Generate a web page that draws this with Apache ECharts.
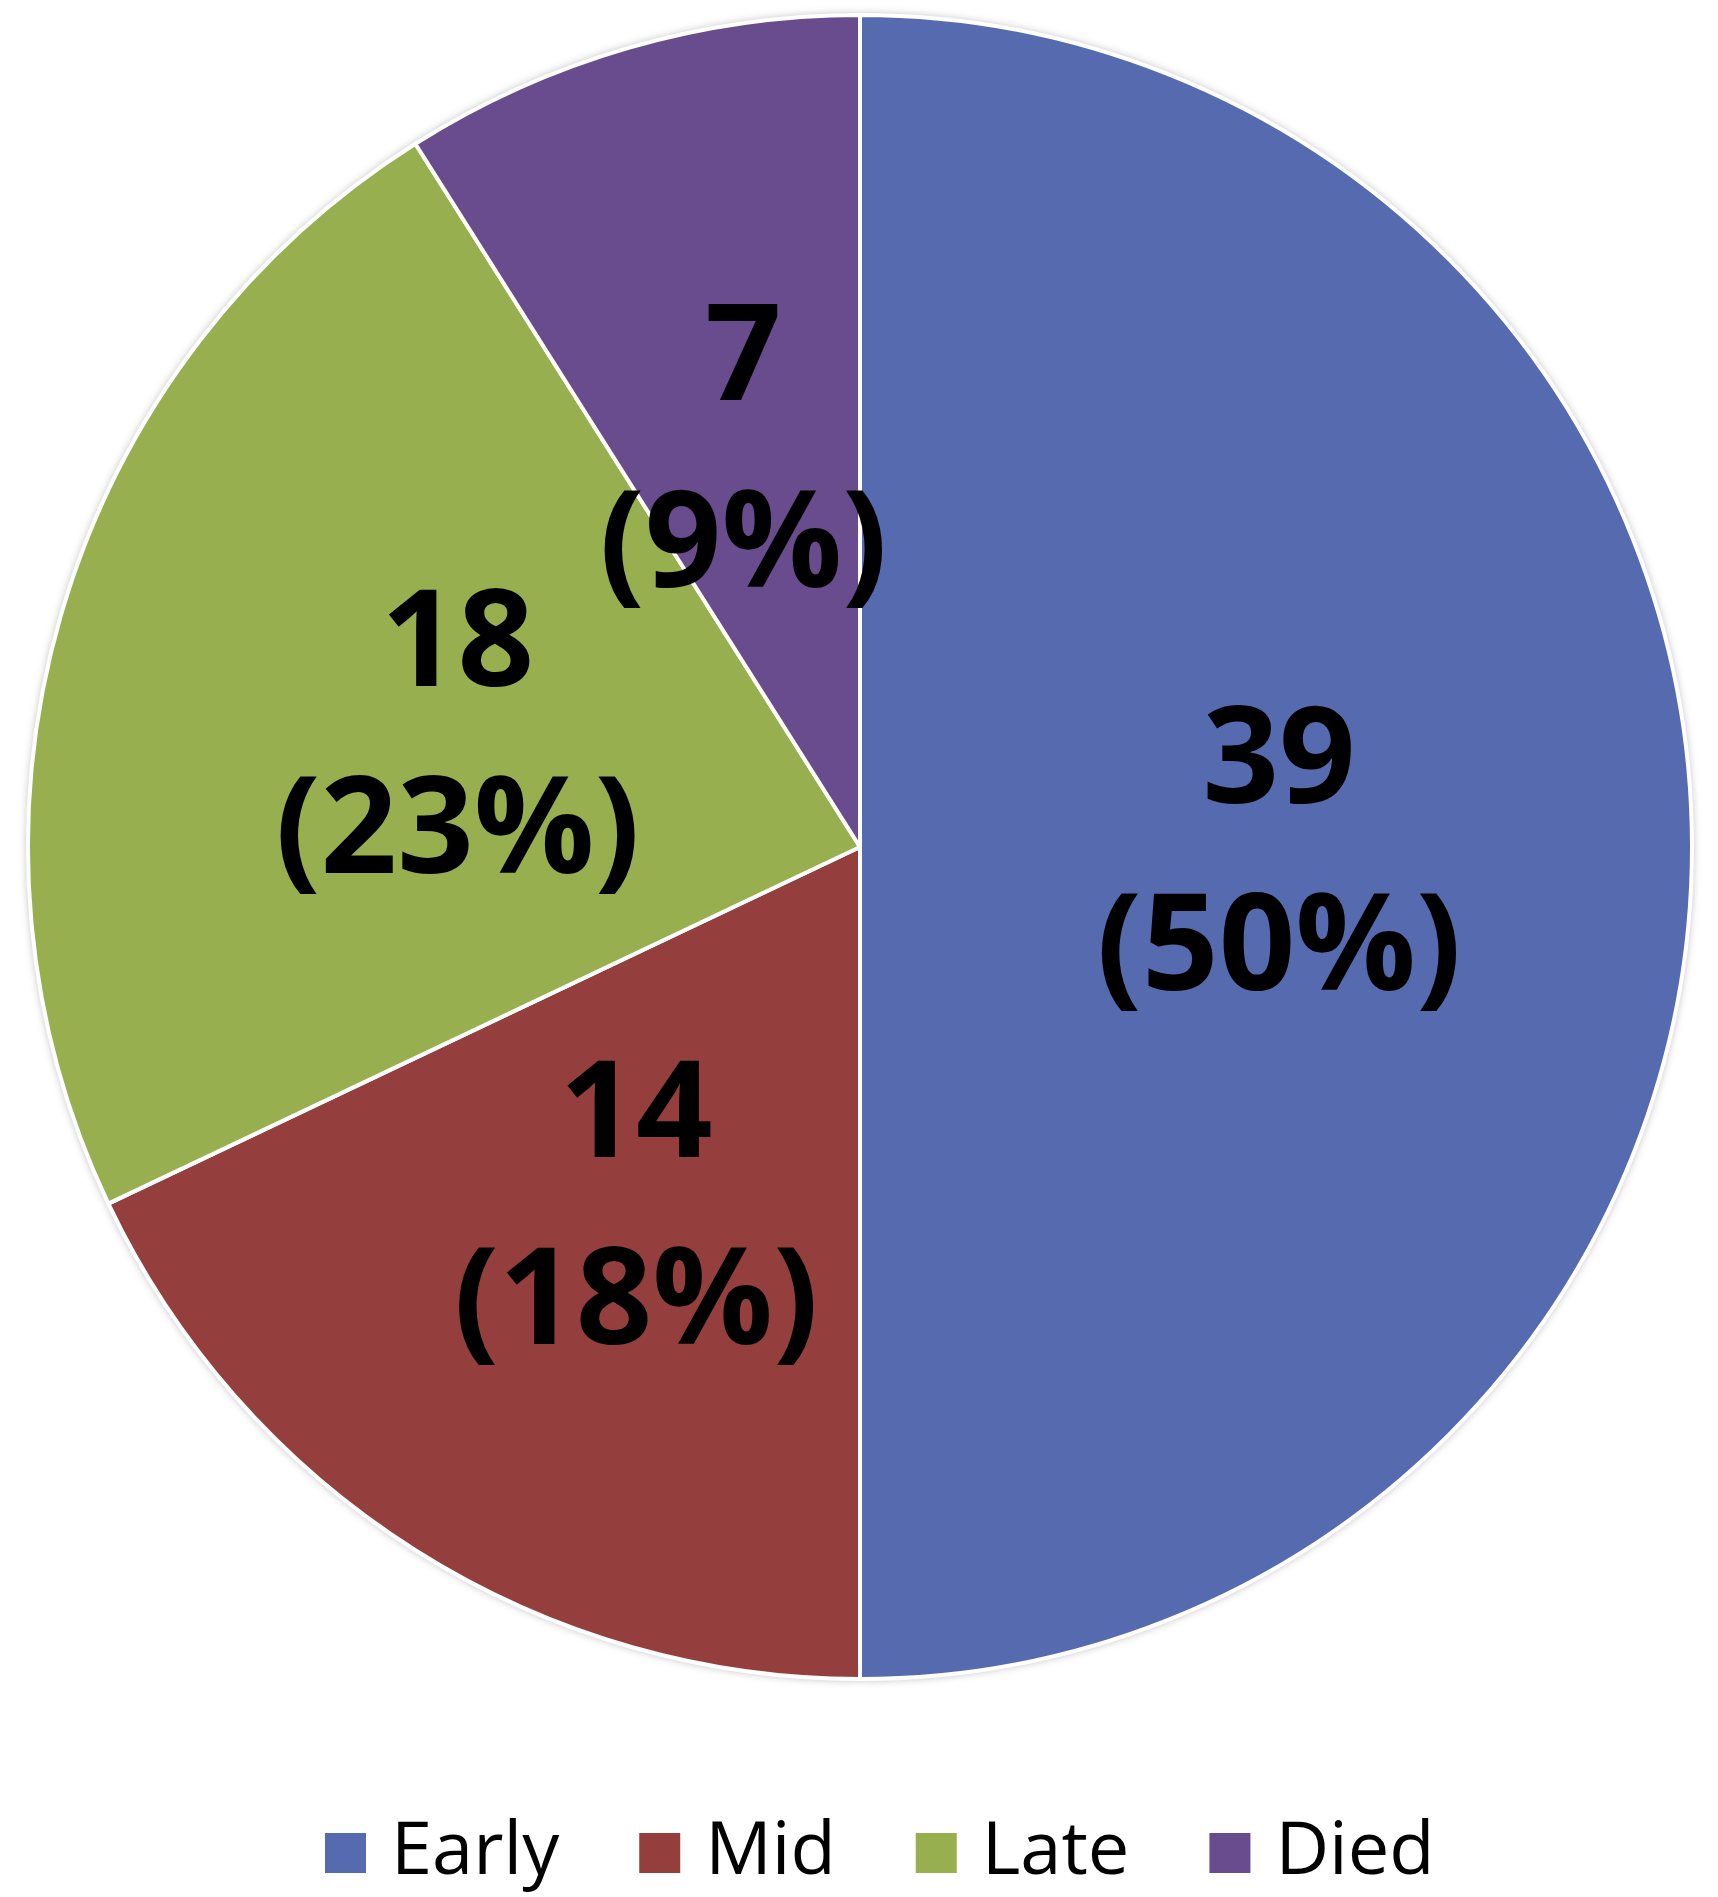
<!DOCTYPE html>
<html>
<head>
    <title>pie</title>
    <meta charset="utf-8"/>
    <script src="https://cdn.jsdelivr.net/npm/echarts@6/dist/echarts.min.js"></script>
    <style>
        html, body { margin: 0; padding: 0; background: #fff; }
    </style>
</head>
<body>
    <div id="myChart" style="height: 1897px;width: 1718px"></div>
</body>
<script type="text/javascript">
    // data
    var categories = ['Early', 'Mid', 'Late', 'Died'];
    var counts = [39, 14, 18, 7];
    var colors = ['#556AAF', '#943F3E', '#97AF4F', '#694C8D'];

    var total = counts.reduce(function (a, b) { return a + b; }, 0);

    var pieData = categories.map(function (name, i) {
        return { name: name, value: counts[i], itemStyle: { color: colors[i] } };
    });

    var myChart = echarts.init(document.getElementById('myChart'));
    var option = {
        animation: false,
        legend: {
            data: categories,
            left: 320,
            top: 1811,
            icon: 'rect',
            itemWidth: 41,
            itemHeight: 40,
            itemGap: 80,
            textStyle: {
                fontFamily: 'Open Sans',
                fontSize: 74,
                color: '#000',
                padding: [0, 0, 0, 20]
            }
        },
        series: [{
            // shadow layer under the pie
            type: 'pie',
            silent: true,
            center: [860, 847],
            radius: 832,
            data: pieData,
            label: { show: false },
            labelLine: { show: false },
            itemStyle: {
                shadowBlur: 10,
                shadowColor: 'rgba(0,0,0,0.35)'
            },
            z: 1
        }, {
            name: 'Outcome',
            type: 'pie',
            center: [860, 847],
            radius: 832,
            startAngle: 90,
            clockwise: true,
            avoidLabelOverlap: false,
            minShowLabelAngle: 0,
            data: pieData,
            itemStyle: {
                borderColor: '#fff',
                borderWidth: 4
            },
            label: {
                show: true,
                position: 'inside',
                overflow: 'none',
                offset: [0, 11],
                fontFamily: 'Open Sans',
                fontWeight: 'bold',
                fontSize: 134,
                lineHeight: 187,
                color: '#000',
                formatter: function (p) {
                    return p.value + '\n(' + Math.round(p.value / total * 100) + '%)';
                }
            },
            // labels of neighbouring slices overlap a little, keep them all
            labelLayout: {
                hideOverlap: false
            },
            labelLine: { show: false },
            z: 2
        }]
    };
    myChart.setOption(option);
</script>
</html>
